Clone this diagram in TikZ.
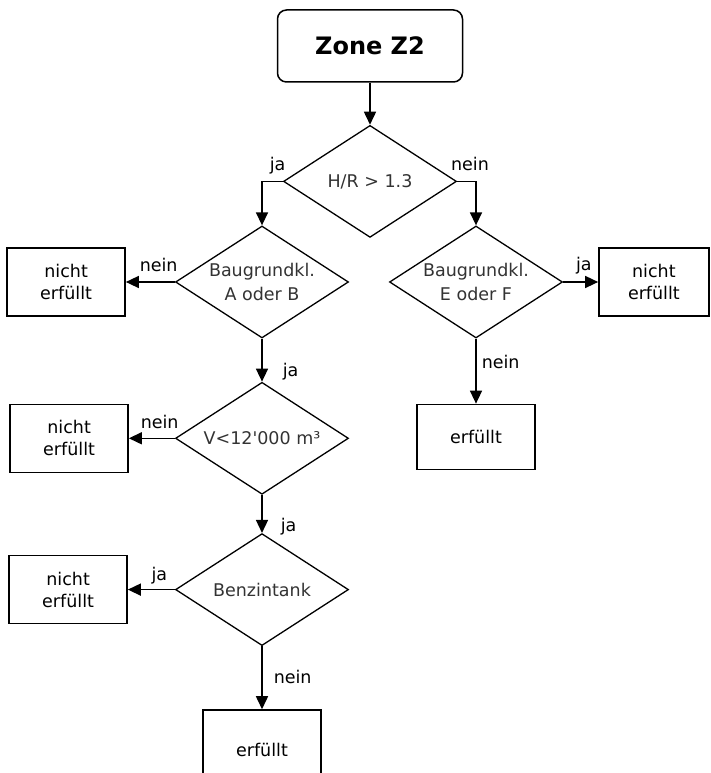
\documentclass[tikz,border=0pt]{standalone}
\usepackage{fontspec}
\setmainfont{DejaVu Sans}
\usetikzlibrary{positioning, shapes.geometric, arrows.meta}
\tikzset{
    block/.style={
        draw, line width=1.5pt,
        minimum width = 118pt,
        minimum height = 68pt,
        align = center,
        font = \fontsize{17.5}{22}\selectfont
    },
    decision/.style={
        draw, diamond, line width=1.3pt,
        minimum width = 173pt, minimum height = 112pt,
        aspect = 1.55, inner sep = 0pt,
        align = center, text = black!80,
        font = \fontsize{17.5}{24}\selectfont
    },
    terminal/.style={
        draw, rounded corners=9pt, line width=1.5pt,
        minimum width = 185pt, minimum height = 72pt,
        font = \fontsize{24}{28}\selectfont\bfseries
    },
    answer/.style = {inner sep=0pt, text depth=0pt, font=\fontsize{17.5}{20}\selectfont},
    line/.style = {-{Triangle[length=13pt, width=12pt]}, line width=1.5pt}
}

\begin{document}
\begin{tikzpicture}[x=1pt, y=1pt]
    \useasboundingbox (0,0) rectangle (710,773);
    \clip (0,0) rectangle (710,773);

    % Start
    \node[terminal] (zone) at (370,727) {Zone Z2};

    % Decisions
    \node[decision, below = 42pt of zone] (hr) {H/R > 1.3};
    \node[decision] (abclass) at (262,491) {Baugrundkl.\\A oder B};
    \node[decision, below = 43pt of abclass] (vol) {V<12\textquotesingle000 m³};
    \node[decision, below = 38pt of vol] (tank) {Benzintank};
    \node[decision] (efclass) at (476,491) {Baugrundkl.\\E oder F};

    % Results
    \node[block, left = 49pt of abclass] (failAB) {nicht\\erfüllt};
    \node[block, left = 46pt of vol] (failVol) {nicht\\erfüllt};
    \node[block, left = 47pt of tank] (failTank) {nicht\\erfüllt};
    \node[block, below = 63pt of tank, minimum height = 80pt] (okTank) {erfüllt};
    \node[block, right = 35pt of efclass, minimum width = 110pt] (failEF) {nicht\\erfüllt};
    \node[block, below = 65pt of efclass, minimum height = 65pt] (okEF) {erfüllt};

    % Lines
    \draw[line] (zone) -- (hr);
    \draw[line] (hr.west) -| (abclass.north)
        node[answer, pos=0.5, anchor=base west, xshift=7pt, yshift=11pt] {ja};
    \draw[line] (hr.east) -| (efclass.north)
        node[answer, pos=0.5, anchor=base, xshift=-6pt, yshift=11pt] {nein};
    \draw[line] (abclass.west) -- (failAB)
        node[answer, pos=0.33, anchor=base, yshift=10pt] {nein};
    \draw[line] (abclass.south) -- (vol.north)
        node[answer, pos=0.88, anchor=base west, xshift=20pt] {ja};
    \draw[line] (vol.west) -- (failVol)
        node[answer, pos=0.33, anchor=base, yshift=10pt] {nein};
    \draw[line] (vol.south) -- (tank.north)
        node[answer, pos=0.95, anchor=base west, xshift=18pt] {ja};
    \draw[line] (tank.west) -- (failTank)
        node[answer, pos=0.33, anchor=base, yshift=9pt] {ja};
    \draw[line] (tank.south) -- (okTank)
        node[answer, pos=0.59, anchor=base west, xshift=11pt] {nein};
    \draw[line] (efclass.east) -- (failEF)
        node[answer, pos=0.59, anchor=base, yshift=11pt] {ja};
    \draw[line] (efclass.south) -- (okEF)
        node[answer, pos=0.46, anchor=base west, xshift=5pt] {nein};

\end{tikzpicture}
\end{document}
